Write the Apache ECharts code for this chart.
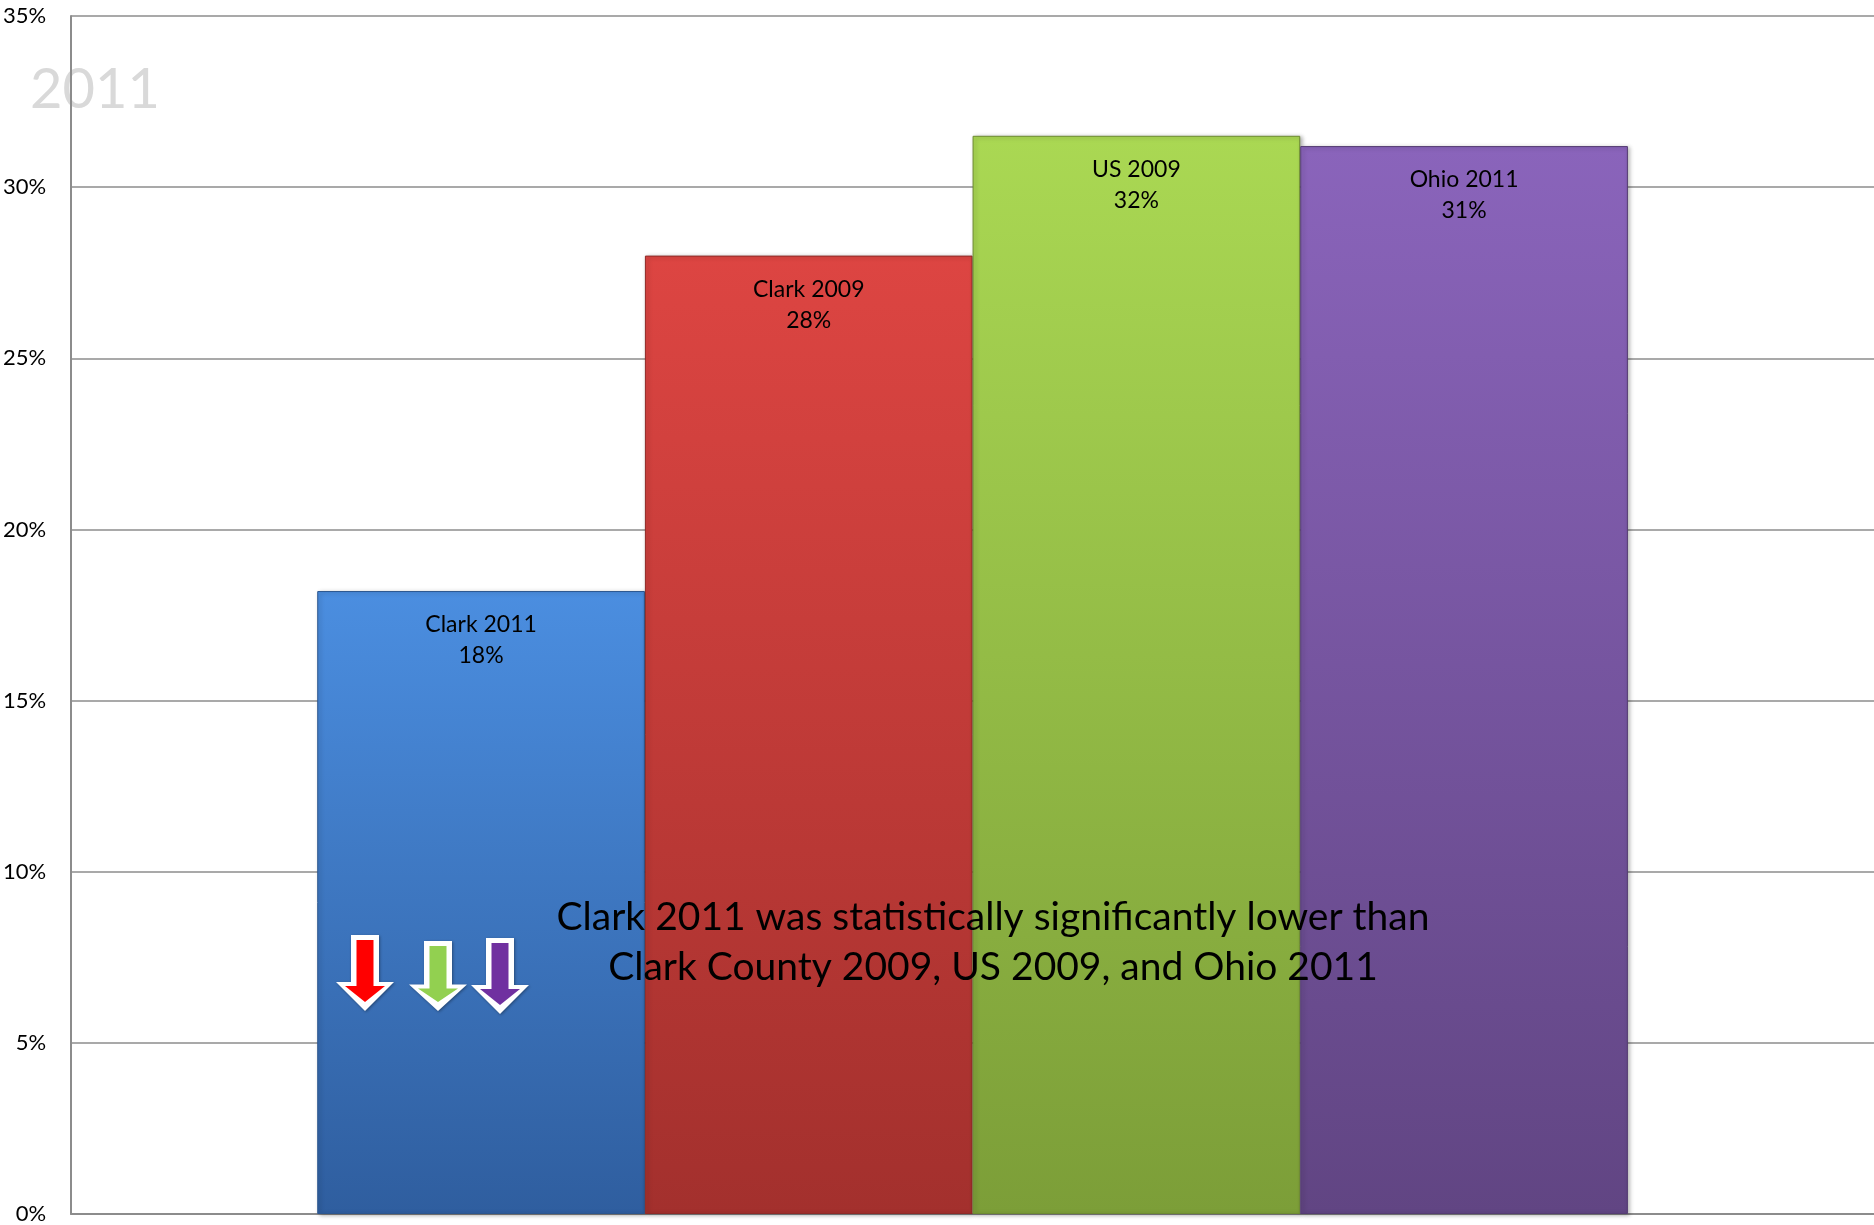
<!DOCTYPE html>
<html><head><meta charset="utf-8">
<script src="https://cdn.jsdelivr.net/npm/echarts@6/dist/echarts.min.js"></script>
<style>html,body{margin:0;padding:0;background:#fff}#c{width:1874px;height:1225px}</style>
</head><body><div id="c"></div>
<script>
const categories = ['Clark 2011', 'Clark 2009', 'US 2009', 'Ohio 2011'];
const values = [18.2, 28.0, 31.5, 31.2];
const valueLabels = ['18%', '28%', '32%', '31%'];
const yTicks = [0, 5, 10, 15, 20, 25, 30, 35];
const yearLabel = '2011';
const noteLines = ['Clark 2011 was statistically significantly lower than', 'Clark County 2009, US 2009, and Ohio 2011'];

const FONT = 'Lato, "Open Sans", sans-serif';
const palette = [
  ['#4b8ee0', '#2f5e9f', '#2b568f'],
  ['#dd4542', '#a3302d', '#8f2a27'],
  ['#aad853', '#7c9e38', '#6d8b31'],
  ['#8a64bb', '#614583', '#553c73']
];

const chart = echarts.init(document.getElementById('c'), null, {renderer: 'canvas'});

const series = categories.map((name, i) => ({
  type: 'bar',
  name: name,
  data: [values[i]],
  barGap: '0%',
  barCategoryGap: '27.3%',
  itemStyle: {
    color: new echarts.graphic.LinearGradient(0, 0, 0, 1, [
      {offset: 0, color: palette[i][0]},
      {offset: 1, color: palette[i][1]}
    ]),
    borderColor: palette[i][2],
    borderWidth: 1,
    shadowColor: 'rgba(0,0,0,0.3)',
    shadowBlur: 4,
    shadowOffsetX: 2,
    shadowOffsetY: 1
  },
  label: {
    show: true,
    position: 'insideTop',
    distance: 18,
    formatter: () => name + '\n' + valueLabels[i],
    fontFamily: FONT,
    fontSize: 23,
    lineHeight: 31,
    color: '#000',
    align: 'center'
  },
  z: 2
}));

function arrow(cx, top, bottom, color) {
  const h = bottom - top;
  const headY = top + h * 0.62;
  const outer = [
    [cx - 14, top], [cx + 14, top], [cx + 14, headY], [cx + 29, headY],
    [cx, bottom], [cx - 29, headY], [cx - 14, headY]
  ];
  const iTop = top + 5, iHead = headY + 4, iBot = bottom - 9;
  const inner = [
    [cx - 8.5, iTop], [cx + 8.5, iTop], [cx + 8.5, iHead], [cx + 20, iHead],
    [cx, iBot], [cx - 20, iHead], [cx - 8.5, iHead]
  ];
  return [
    {type: 'polygon', shape: {points: outer}, style: {fill: '#fff', shadowBlur: 3, shadowColor: 'rgba(0,0,0,0.35)', shadowOffsetX: 1, shadowOffsetY: 1}, z: 10},
    {type: 'polygon', shape: {points: inner}, style: {fill: color}, z: 11}
  ];
}

const graphics = [
  {type: 'text', left: 30, top: 62, z: 0, style: {text: yearLabel, fontFamily: FONT, fontSize: 56, fill: '#d9d9d9'}},
  {type: 'text', x: 993, y: 942, z: 20, style: {text: noteLines.join('\n'), fontFamily: FONT, fontSize: 39, lineHeight: 50, fill: '#000', align: 'center', verticalAlign: 'middle'}}
].concat(arrow(365, 935, 1011, '#ff0000'), arrow(438, 941, 1011, '#92d050'), arrow(500, 938, 1014, '#7030a0'));

chart.setOption({
  animation: false,
  backgroundColor: '#fff',
  grid: {left: 68, right: 0, top: 16, bottom: 8, containLabel: false},
  xAxis: {
    type: 'category',
    data: [''],
    axisLine: {show: true, lineStyle: {color: '#8c8c8c', width: 2}},
    axisTick: {show: false},
    axisLabel: {show: false}
  },
  yAxis: {
    type: 'value',
    min: yTicks[0],
    max: yTicks[yTicks.length - 1],
    interval: 5,
    axisLine: {show: true, lineStyle: {color: '#8c8c8c', width: 2}},
    axisTick: {show: false},
    splitLine: {show: true, lineStyle: {color: '#8c8c8c', width: 1.5}},
    axisLabel: {
      formatter: v => v + '%',
      fontFamily: FONT,
      fontSize: 22,
      color: '#000',
      margin: 25
    }
  },
  series: series,
  graphic: graphics
});
</script></body></html>
